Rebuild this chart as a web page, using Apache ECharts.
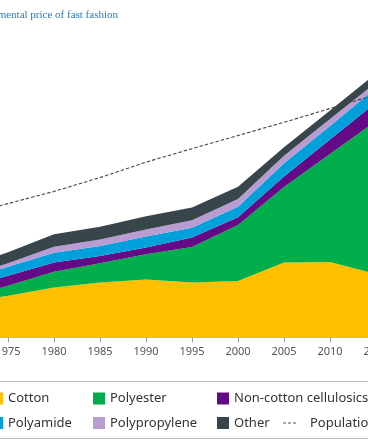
<!DOCTYPE html>
<html>
<head>
<meta charset="utf-8">
<script src="https://cdn.jsdelivr.net/npm/echarts@6/dist/echarts.min.js"></script>
<style>
html,body{margin:0;padding:0;background:#fff;overflow:hidden;width:368px;height:445px;}
#c{position:absolute;left:-100px;top:0;width:568px;height:445px;}
</style>
</head>
<body>
<div id="c"></div>
<script>
// Data (million tonnes of fibre; population in billions)
const tickYears = ['1970', '1975', '1980', '1985', '1990', '1995', '2000', '2005', '2010', '2015', '2020'];
const cotton = [12.6, 15.2, 18.2, 20.1, 21.2, 20.1, 20.6, 27.4, 27.5, 23.2];
const polyester = [1.5, 3.7, 5.8, 7.0, 9.2, 12.9, 20.4, 27.5, 39.4, 55.8];
const cellulosics = [3.6, 3.6, 3.4, 2.6, 2.4, 3.5, 2.9, 3.8, 5.3, 6.7];
const polyamide = [2.9, 3.3, 3.5, 3.7, 4.0, 3.5, 3.8, 4.9, 4.9, 5.3];
const polypropylene = [1.1, 1.3, 2.2, 2.3, 2.6, 2.8, 2.8, 2.7, 2.6, 2.0];
const other = [3.6, 4.0, 4.6, 4.7, 4.8, 4.6, 4.5, 3.1, 3.1, 3.3];
const population = [3.70, 4.07, 4.44, 4.86, 5.33, 5.74, 6.14, 6.54, 6.96, 7.38];
const seriesNames = ['Cotton', 'Polyester', 'Non-cotton cellulosics', 'Polyamide', 'Polypropylene', 'Other'];
const seriesValues = [cotton, polyester, cellulosics, polyamide, polypropylene, other];
const colors = ['#FEC000', '#00AE4B', '#650A87', '#00A0DB', '#B89CD2', '#38464B'];
const title = 'The environmental price of fast fashion';

const series = seriesNames.map((n, i) => ({
  name: n,
  type: 'line',
  stack: 'fibre',
  data: seriesValues[i],
  symbol: 'none',
  lineStyle: {width: 0},
  areaStyle: {color: colors[i], opacity: 1},
  itemStyle: {color: colors[i]},
  emphasis: {disabled: true},
  z: 2
}));
series.push({
  name: 'Population',
  type: 'line',
  yAxisIndex: 1,
  data: population,
  symbol: 'none',
  lineStyle: {color: '#454545', width: 1.1, type: [3.5, 2]},
  itemStyle: {color: '#454545'},
  emphasis: {disabled: true},
  z: 3
});

const dashIcon = 'path://M0,0h3v1.2h-3z M5,0h3v1.2h-3z M10,0h3v1.2h-3z M21.95,0h0.05v1.2h-0.05z';
const legendPos = [
  ['Cotton', 91, 392], ['Polyamide', 91, 416.5],
  ['Polyester', 193, 392], ['Polypropylene', 193, 416.5],
  ['Non-cotton cellulosics', 317, 392], ['Other', 317, 416.5],
  ['Population', 383, 416.5]
];
const legends = legendPos.map(([n, l, t]) => ({
  data: [n === 'Population' ? {name: n, icon: dashIcon, itemStyle: {color: '#555'}} : {name: n, icon: 'rect'}],
  left: l, top: t,
  itemWidth: n === 'Population' ? 22 : 12,
  itemHeight: 12,
  selectedMode: false,
  padding: 0,
  textStyle: {fontFamily: 'Noto Sans', fontSize: 13, color: '#333'}
}));

const chart = echarts.init(document.getElementById('c'), null, {renderer: 'canvas'});
chart.setOption({
  backgroundColor: '#fff',
  animation: false,
  grid: {left: 62, right: 46, top: 8.5, bottom: 107.5},
  xAxis: {
    type: 'category', data: tickYears, boundaryGap: false,
    axisLine: {lineStyle: {color: '#b5b5b5', width: 1}},
    axisTick: {show: true, length: 5, alignWithLabel: true, lineStyle: {color: '#a0a0a0'}},
    splitLine: {show: false},
    axisLabel: {fontFamily: 'Noto Sans', fontSize: 11, color: '#555', margin: 9, interval: 0}
  },
  yAxis: [
    {type: 'value', min: 0, max: 120, show: false, splitLine: {show: false}},
    {type: 'value', min: 0, max: 10, show: false, splitLine: {show: false}}
  ],
  legend: legends,
  graphic: [
    {type: 'text', x: 218, y: 15.5,
      style: {text: title, fill: '#2b7bba', fontFamily: 'Liberation Serif', fontSize: 11,
        align: 'right', verticalAlign: 'middle'}},
    {type: 'rect', shape: {x: 80, y: 381.5, width: 420, height: 57},
      style: {fill: 'none', stroke: '#bdbdbd', lineWidth: 1}, z: -1}
  ],
  series: series
});
</script>
</body>
</html>
